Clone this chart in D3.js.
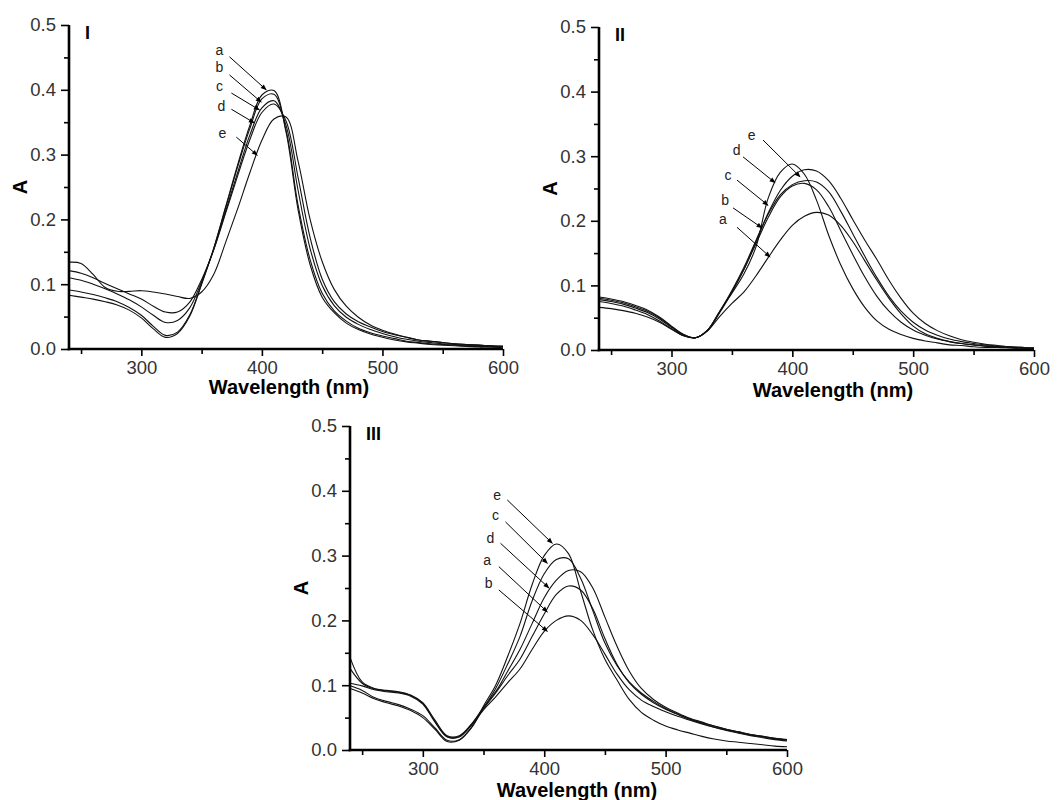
<!DOCTYPE html>
<html>
<head>
<meta charset="utf-8">
<script src="https://cdn.jsdelivr.net/npm/d3@7"></script>
<style>
  html, body { margin: 0; padding: 0; background: #fff; }
  svg { display: block; font-family: "Liberation Sans", Arial, sans-serif; }
</style>
</head>
<body>
<svg id="chart" width="1062" height="800"></svg>
<script>
// ---------------- DATA ----------------
const wavelength = [240,250,260,270,280,290,300,310,320,330,340,350,360,370,380,390,400,410,420,430,440,450,460,470,480,490,500,510,520,530,540,550,560,570,580,590,600];

// Panel I
const I_a = [0.083,0.080,0.077,0.073,0.068,0.060,0.048,0.031,0.018,0.024,0.050,0.100,0.155,0.220,0.285,0.345,0.392,0.399,0.335,0.215,0.130,0.080,0.056,0.040,0.030,0.023,0.018,0.014,0.011,0.009,0.007,0.006,0.005,0.004,0.003,0.003,0.002];
const I_b = [0.091,0.088,0.084,0.079,0.073,0.064,0.052,0.035,0.021,0.026,0.052,0.101,0.155,0.218,0.282,0.340,0.386,0.393,0.338,0.222,0.138,0.086,0.059,0.043,0.032,0.025,0.020,0.016,0.012,0.010,0.008,0.007,0.006,0.005,0.004,0.003,0.003];
const I_c = [0.110,0.106,0.100,0.093,0.085,0.076,0.065,0.052,0.041,0.044,0.063,0.104,0.153,0.213,0.273,0.330,0.372,0.383,0.345,0.245,0.155,0.098,0.067,0.049,0.038,0.030,0.024,0.019,0.015,0.012,0.010,0.008,0.007,0.006,0.005,0.004,0.004];
const I_d = [0.121,0.117,0.110,0.101,0.093,0.085,0.077,0.066,0.057,0.057,0.072,0.107,0.153,0.210,0.268,0.323,0.365,0.378,0.352,0.265,0.172,0.108,0.073,0.054,0.042,0.034,0.027,0.022,0.018,0.014,0.012,0.010,0.008,0.007,0.006,0.005,0.004];
const I_e = [0.134,0.132,0.115,0.095,0.089,0.089,0.090,0.088,0.085,0.081,0.078,0.088,0.115,0.165,0.217,0.272,0.322,0.355,0.358,0.290,0.200,0.135,0.092,0.066,0.049,0.037,0.029,0.023,0.018,0.014,0.012,0.010,0.008,0.007,0.006,0.005,0.004];

// Panel II
const II_a = [0.066,0.064,0.061,0.057,0.051,0.043,0.032,0.022,0.019,0.030,0.052,0.072,0.090,0.115,0.143,0.170,0.193,0.207,0.213,0.209,0.193,0.168,0.138,0.108,0.080,0.056,0.037,0.025,0.018,0.013,0.010,0.008,0.006,0.005,0.004,0.003,0.003];
const II_b = [0.078,0.075,0.071,0.065,0.058,0.048,0.035,0.023,0.019,0.030,0.058,0.090,0.125,0.165,0.205,0.237,0.254,0.258,0.248,0.222,0.185,0.148,0.113,0.083,0.060,0.043,0.031,0.023,0.017,0.013,0.010,0.008,0.006,0.005,0.004,0.003,0.002];
const II_c = [0.080,0.077,0.073,0.067,0.060,0.050,0.036,0.024,0.019,0.031,0.060,0.092,0.128,0.170,0.210,0.240,0.256,0.262,0.260,0.245,0.215,0.180,0.145,0.112,0.083,0.060,0.043,0.031,0.023,0.017,0.013,0.010,0.008,0.006,0.005,0.004,0.003];
const II_d = [0.075,0.072,0.068,0.062,0.055,0.045,0.033,0.022,0.019,0.031,0.060,0.088,0.118,0.160,0.235,0.275,0.288,0.272,0.232,0.178,0.132,0.095,0.066,0.045,0.032,0.024,0.018,0.014,0.011,0.008,0.007,0.005,0.004,0.004,0.003,0.002,0.002];
const II_e = [0.082,0.079,0.075,0.069,0.062,0.051,0.037,0.024,0.019,0.031,0.060,0.090,0.125,0.168,0.212,0.247,0.269,0.279,0.277,0.262,0.235,0.202,0.170,0.140,0.108,0.080,0.057,0.041,0.030,0.022,0.016,0.012,0.009,0.007,0.005,0.004,0.003];

// Panel III
const III_a = [0.126,0.103,0.094,0.091,0.089,0.084,0.072,0.044,0.021,0.021,0.039,0.064,0.088,0.115,0.140,0.175,0.210,0.240,0.253,0.247,0.218,0.172,0.132,0.104,0.086,0.073,0.063,0.055,0.048,0.042,0.037,0.032,0.028,0.024,0.021,0.018,0.016];
const III_b = [0.103,0.099,0.093,0.090,0.088,0.083,0.071,0.043,0.020,0.020,0.038,0.062,0.082,0.104,0.125,0.155,0.183,0.200,0.207,0.200,0.178,0.148,0.117,0.093,0.077,0.067,0.059,0.052,0.046,0.040,0.035,0.031,0.027,0.023,0.020,0.017,0.015];
const III_c = [0.095,0.088,0.079,0.073,0.068,0.061,0.050,0.032,0.013,0.015,0.034,0.065,0.095,0.133,0.175,0.230,0.272,0.294,0.295,0.265,0.215,0.165,0.130,0.105,0.088,0.075,0.064,0.055,0.047,0.041,0.035,0.030,0.026,0.022,0.019,0.016,0.014];
const III_d = [0.143,0.105,0.095,0.092,0.090,0.085,0.073,0.046,0.022,0.022,0.040,0.066,0.090,0.122,0.155,0.195,0.235,0.262,0.277,0.275,0.250,0.205,0.160,0.122,0.095,0.078,0.066,0.057,0.049,0.043,0.037,0.032,0.028,0.024,0.021,0.018,0.016];
const III_e = [0.099,0.092,0.081,0.075,0.070,0.063,0.053,0.034,0.015,0.016,0.035,0.068,0.100,0.145,0.195,0.255,0.300,0.318,0.303,0.245,0.185,0.140,0.108,0.078,0.058,0.046,0.037,0.031,0.026,0.021,0.017,0.014,0.012,0.010,0.008,0.006,0.005];

// Axis ticks
const xMajorTicks = [300, 400, 500, 600];
const xMinorTicks = [250, 350, 450, 550];
const yMajorTicks = [0.0, 0.1, 0.2, 0.3, 0.4, 0.5];
const yMinorTicks = [0.05, 0.15, 0.25, 0.35, 0.45];
const xTitle = "Wavelength (nm)";
const yTitle = "A";
const panelNames = ["I", "II", "III"];
const seriesNames = ["a", "b", "c", "d", "e"];

// Curve annotations: label point, arrow start, arrow end (data units: nm, A)
const I_notes = [
  {k:"a", tx:364.8, ty:0.461, sx:373.1, sy:0.451, ex:403.6, ey:0.400},
  {k:"b", tx:364.8, ty:0.435, sx:373.1, sy:0.423, ex:399.5, ey:0.381},
  {k:"c", tx:364.8, ty:0.406, sx:374.7, sy:0.395, ex:397.9, ey:0.369},
  {k:"d", tx:366.4, ty:0.375, sx:374.7, sy:0.370, ex:393.7, ey:0.349},
  {k:"e", tx:367.3, ty:0.333, sx:378.8, sy:0.327, ex:396.2, ey:0.299}
];
const II_notes = [
  {k:"e", tx:366.4, ty:0.333, sx:375.8, sy:0.325, ex:406.4, ey:0.268},
  {k:"d", tx:354.0, ty:0.310, sx:359.2, sy:0.299, ex:385.7, ey:0.259},
  {k:"c", tx:346.8, ty:0.271, sx:354.2, sy:0.263, ex:379.9, ey:0.224},
  {k:"b", tx:344.3, ty:0.232, sx:350.9, sy:0.220, ex:374.9, ey:0.189},
  {k:"a", tx:342.6, ty:0.203, sx:354.2, sy:0.190, ex:381.6, ey:0.144}
];
const III_notes = [
  {k:"e", tx:361.2, ty:0.393, sx:369.5, sy:0.386, ex:406.7, ey:0.319},
  {k:"c", tx:359.8, ty:0.363, sx:368.1, sy:0.352, ex:402.6, ey:0.288},
  {k:"d", tx:355.7, ty:0.327, sx:364.0, sy:0.319, ex:403.9, ey:0.250},
  {k:"a", tx:353.0, ty:0.293, sx:362.6, sy:0.283, ex:402.6, ey:0.213},
  {k:"b", tx:354.3, ty:0.257, sx:362.6, sy:0.247, ex:402.6, ey:0.183}
];

// ---------------- LAYOUT ----------------
const panels = [
  {name: panelNames[0], series: [I_a, I_b, I_c, I_d, I_e], notes: I_notes,
   x0: 69, x1: 503, yTop: 25, yBot: 349, xTitleX: 289, xTitleY: 394},
  {name: panelNames[1], series: [II_a, II_b, II_c, II_d, II_e], notes: II_notes,
   x0: 599, x1: 1034, yTop: 27, yBot: 350, xTitleX: 833, xTitleY: 397},
  {name: panelNames[2], series: [III_a, III_b, III_c, III_d, III_e], notes: III_notes,
   x0: 350, x1: 787, yTop: 426, yBot: 750, xTitleX: 577, xTitleY: 797}
];

const svg = d3.select("#chart");
const defs = svg.append("defs");
defs.append("marker")
  .attr("id", "arrow")
  .attr("viewBox", "0 0 10 10")
  .attr("refX", 9).attr("refY", 5)
  .attr("markerWidth", 7).attr("markerHeight", 6)
  .attr("markerUnits", "userSpaceOnUse")
  .attr("orient", "auto")
  .append("path").attr("d", "M0,1 L10,5 L0,9 Z").attr("fill", "#000");

panels.forEach(p => {
  const x = d3.scaleLinear().domain([240, 600]).range([p.x0, p.x1]);
  const y = d3.scaleLinear().domain([0, 0.5]).range([p.yBot, p.yTop]);
  const g = svg.append("g");

  // curves
  const line = d3.line()
    .x((d, i) => x(wavelength[i]))
    .y(d => y(d))
    .curve(d3.curveCatmullRom.alpha(0.5));
  p.series.forEach((s, si) => {
    g.append("path")
      .datum(s)
      .attr("class", "curve series-" + seriesNames[si])
      .attr("fill", "none")
      .attr("stroke", "#111")
      .attr("stroke-width", 1.1)
      .attr("d", line);
  });

  // minor ticks
  const xMinor = g.append("g").attr("transform", `translate(0,${p.yBot})`)
    .call(d3.axisBottom(x).tickValues(xMinorTicks).tickSize(5).tickFormat(""));
  const yMinor = g.append("g").attr("transform", `translate(${p.x0},0)`)
    .call(d3.axisLeft(y).tickValues(yMinorTicks).tickSize(5).tickFormat(""));
  [xMinor, yMinor].forEach(a => {
    a.select(".domain").remove();
    a.selectAll("line").attr("stroke", "#000").attr("stroke-width", 1.6);
  });

  // major axes
  const xAxis = g.append("g").attr("transform", `translate(0,${p.yBot})`)
    .call(d3.axisBottom(x).tickValues(xMajorTicks).tickSize(7).tickPadding(5).tickFormat(d3.format("d")));
  const yAxis = g.append("g").attr("transform", `translate(${p.x0},0)`)
    .call(d3.axisLeft(y).tickValues(yMajorTicks).tickSize(8).tickPadding(5).tickFormat(d3.format(".1f")));
  [xAxis, yAxis].forEach(a => {
    a.select(".domain").attr("stroke", "#000").attr("stroke-width", 2.6)
      .attr("d", null);
    a.selectAll(".tick line").attr("stroke", "#000").attr("stroke-width", 1.6);
    a.selectAll(".tick text")
      .attr("fill", "#333")
      .style("font-family", "'Liberation Sans', Arial, sans-serif")
      .style("font-size", "18.5px");
  });
  // redraw domain lines as plain axis lines without end ticks
  xAxis.select(".domain").remove();
  yAxis.select(".domain").remove();
  g.append("line")
    .attr("x1", x(240) - 1.3).attr("x2", x(600))
    .attr("y1", y(0)).attr("y2", y(0))
    .attr("stroke", "#000").attr("stroke-width", 2.6);
  g.append("line")
    .attr("x1", x(240)).attr("x2", x(240))
    .attr("y1", y(0.5)).attr("y2", y(0) + 1.3)
    .attr("stroke", "#000").attr("stroke-width", 2.6);

  // axis titles
  g.append("text")
    .attr("x", p.xTitleX).attr("y", p.xTitleY)
    .attr("text-anchor", "middle")
    .style("font-weight", "bold").style("font-size", "20px")
    .attr("fill", "#000")
    .text(xTitle);
  g.append("text")
    .attr("transform", `translate(${p.x0 - 42},${(p.yTop + p.yBot) / 2}) rotate(-90)`)
    .attr("text-anchor", "middle")
    .style("font-weight", "bold").style("font-size", "20px")
    .attr("fill", "#000")
    .text(yTitle);

  // panel label
  g.append("text")
    .attr("x", p.x0 + 16).attr("y", p.yTop + 14)
    .style("font-weight", "bold").style("font-size", "18px")
    .attr("fill", "#000")
    .text(p.name);

  // annotations
  p.notes.forEach(n => {
    g.append("line")
      .attr("x1", x(n.sx)).attr("y1", y(n.sy))
      .attr("x2", x(n.ex)).attr("y2", y(n.ey))
      .attr("stroke", "#000").attr("stroke-width", 1)
      .attr("marker-end", "url(#arrow)");
    g.append("text")
      .attr("x", x(n.tx)).attr("y", y(n.ty))
      .attr("text-anchor", "middle")
      .attr("dominant-baseline", "central")
      .style("font-size", "14px")
      .attr("fill", "#222")
      .text(n.k);
  });
});
</script>
</body>
</html>
